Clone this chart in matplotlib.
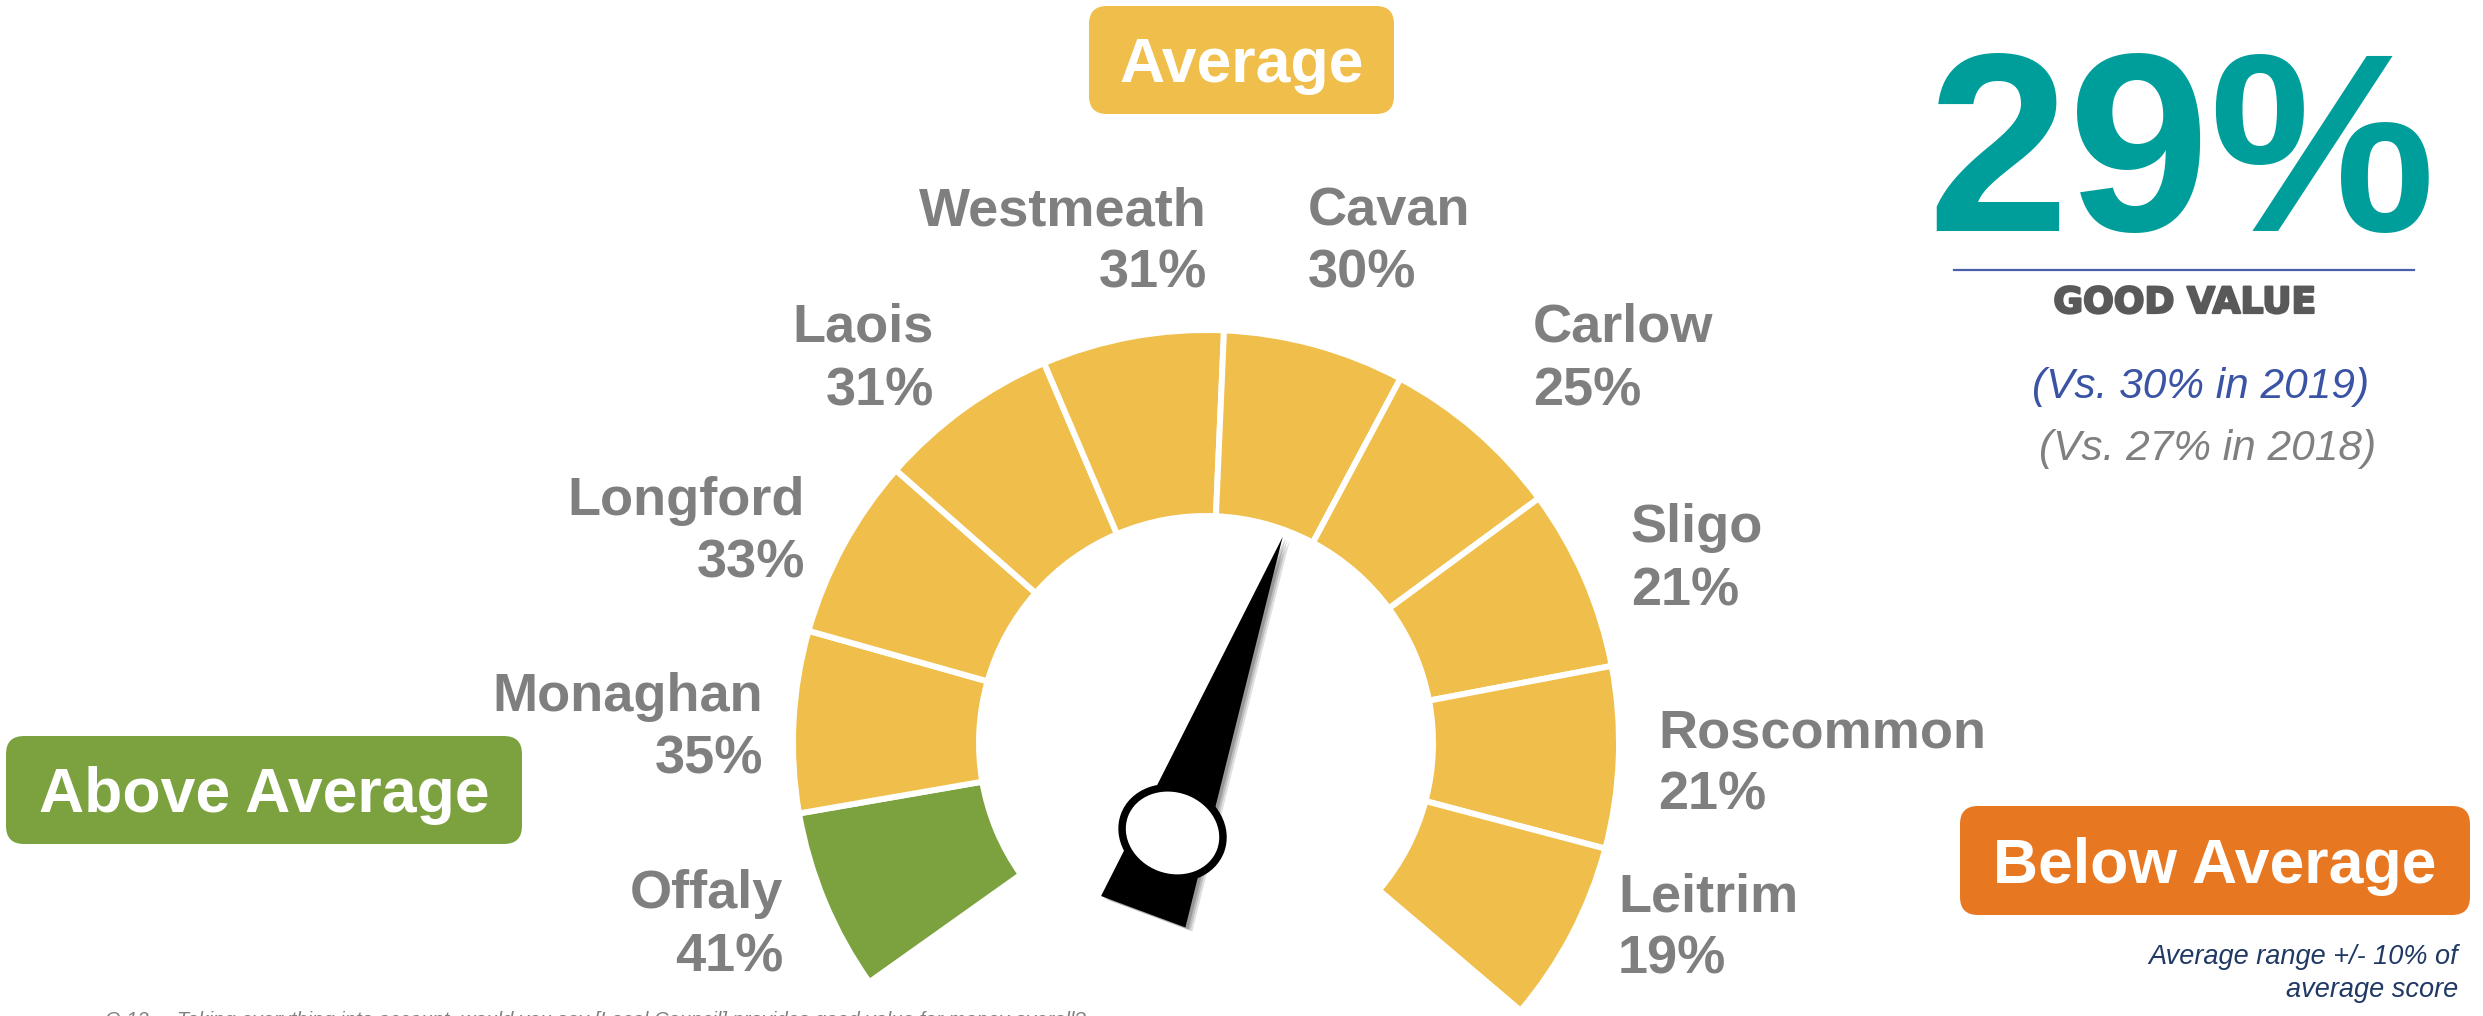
import matplotlib.pyplot as plt
import matplotlib.patheffects as pe
import numpy as np
from matplotlib.patches import Wedge, Polygon, Ellipse, FancyBboxPatch

W, H = 2483, 1016

# data
counties = ['Offaly', 'Monaghan', 'Longford', 'Laois', 'Westmeath',
            'Cavan', 'Carlow', 'Sligo', 'Roscommon', 'Leitrim']
scores = [41, 35, 33, 31, 31, 30, 25, 21, 21, 19]
overall = 29
prev_years = [2019, 2018]
prev_scores = [30, 27]
band = 10

YELLOW = '#F0BE4A'
GREEN = '#7BA23F'
ORANGE = '#E87722'
TEAL = '#009E9A'
GREY = '#7F7F7F'

# label anchors: x, baseline (pixels from top), alignment
label_xy = [(783, 908, 'right'), (763, 711, 'right'), (805, 515, 'right'),
            (934, 342, 'right'), (1207, 225, 'right'), (1308, 225, 'left'),
            (1533, 342, 'left'), (1631, 542, 'left'), (1658, 747, 'left'),
            (1618, 911, 'left')]

fig = plt.figure(figsize=(W / 100, H / 100), dpi=100)
ax = fig.add_axes([0, 0, 1, 1])

# gauge ring
cx, cy = 1206, H - 743
r_out, r_in = 410, 230
a0, a1 = 215.4, -40.4
step = (a0 - a1) / len(scores)
mids = []
for i, v in enumerate(scores):
    t2 = a0 - i * step
    t1 = t2 - step
    mids.append((t1 + t2) / 2)
    if v > overall + band:
        col = GREEN
    elif v < overall - band:
        col = ORANGE
    else:
        col = YELLOW
    ax.add_patch(Wedge((cx, cy), r_out + 3, t1, t2, width=r_out - r_in + 6,
                       facecolor=col, edgecolor='white', linewidth=4.3, zorder=1))

# needle points at overall score, interpolated between the county segments
ang = np.interp(overall, scores[::-1], mids[::-1])
th = np.radians(ang)
u = np.array([np.cos(th), np.sin(th)])
n = np.array([-np.sin(th), np.cos(th)])
c = np.array([cx, cy])
tip = c + 220 * u
b1 = c - 180 * u + 45 * n
b2 = c - 180 * u - 45 * n
for off, al in [(7, 0.12), (5, 0.15), (3, 0.2)]:
    sh = np.array([off, -off * 0.6])
    ax.add_patch(Polygon([tip + sh, b1 + sh, b2 + sh], closed=True,
                         facecolor='black', edgecolor='none', alpha=al, zorder=2))
ax.add_patch(Polygon([tip, b1, b2], closed=True, facecolor='black',
                     edgecolor='none', zorder=3))
piv = c - 96 * u
ax.add_patch(Ellipse(piv, 110, 96, angle=ang - 90, facecolor='black', zorder=4))
ax.add_patch(Ellipse(piv, 95, 81, angle=ang - 90, facecolor='white', zorder=5))

# county labels
lab = dict(family='Liberation Sans', weight='bold', color=GREY, fontsize=39)
for name, val, (x, yb, ha) in zip(counties, scores, label_xy):
    ax.text(x, H - yb, name, ha=ha, va='baseline', **lab)
    ax.text(x, H - yb - 63, f'{val}%', ha=ha, va='baseline', **lab)


def pill(x0, y0, x1, y1, color, text):
    ax.add_patch(FancyBboxPatch((x0, H - y1), x1 - x0, y1 - y0,
                                boxstyle='round,pad=0,rounding_size=18',
                                facecolor=color, edgecolor='none', zorder=1))
    ax.text((x0 + x1) / 2, H - (y0 + y1) / 2 - 22, text, ha='center',
            va='baseline', color='white', fontsize=45,
            family='Liberation Sans', weight='bold', zorder=2)


pill(1089, 6, 1394, 114, YELLOW, 'Average')
pill(6, 736, 522, 844, GREEN, 'Above Average')
pill(1960, 806, 2470, 915, ORANGE, 'Below Average')

# headline figure
ax.text(2182, H - 231, f'{overall}%', ha='center', va='baseline', fontsize=183,
        color=TEAL, family='Liberation Sans', weight='bold')
ax.plot([1954, 2414], [H - 270, H - 270], color='#4B5EAA', lw=1.6)
ax.text(2185, H - 313, 'GOOD VALUE', ha='center', va='baseline', fontsize=26,
        family='DejaVu Sans', weight='bold', color='#595959',
        path_effects=[pe.withStroke(linewidth=1.6, foreground='#595959')])
ax.text(2201, H - 398, f'(Vs. {prev_scores[0]}% in {prev_years[0]})', ha='center',
        va='baseline', fontsize=30.5, family='Liberation Sans', style='italic',
        color='#3A53A4')
ax.text(2208, H - 460, f'(Vs. {prev_scores[1]}% in {prev_years[1]})', ha='center',
        va='baseline', fontsize=30.5, family='Liberation Sans', style='italic',
        color='#808080')

ax.text(2458, H - 964, f'Average range +/- {band}% of', ha='right', va='baseline',
        fontsize=19.5, family='Liberation Sans', style='italic', color='#1F3864')
ax.text(2458, H - 997, 'average score', ha='right', va='baseline',
        fontsize=19.5, family='Liberation Sans', style='italic', color='#1F3864')

# footnote, mostly cut off at the bottom edge as in the source slide
ax.text(105, H - 1026, 'Q.12     Taking everything into account, would you say '
        '[Local Council] provides good value for money overall?',
        ha='left', va='baseline', fontsize=14.5, family='Liberation Sans',
        style='italic', color='#808080')

ax.set_xlim(0, W)
ax.set_ylim(0, H)
ax.set_aspect('equal')
ax.axis('off')
fig.savefig('out.png', dpi=100)
